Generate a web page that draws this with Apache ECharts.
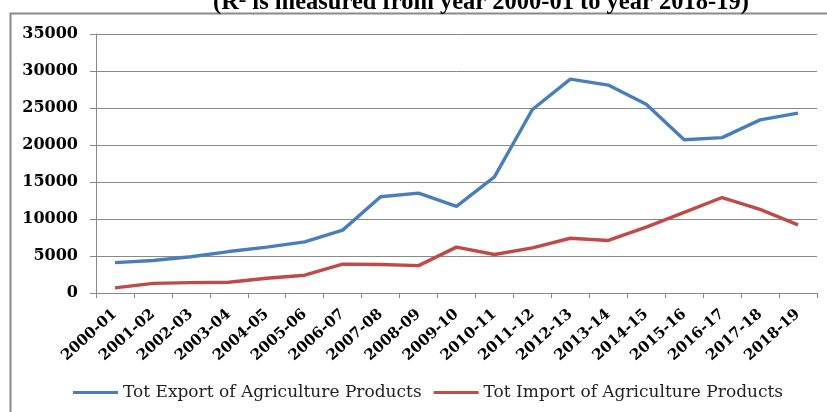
<!DOCTYPE html>
<html>
<head>
<meta charset="utf-8">
<script src="https://cdn.jsdelivr.net/npm/echarts@6/dist/echarts.min.js"></script>
<style>
  html, body { margin: 0; padding: 0; background: #fff; }
  #chart { width: 827px; height: 412px; }
</style>
</head>
<body>
<div id="chart"></div>
<script>
// Agricultural trade, 2000-01 to 2018-19
const years = ['2000-01', '2001-02', '2002-03', '2003-04', '2004-05', '2005-06', '2006-07',
  '2007-08', '2008-09', '2009-10', '2010-11', '2011-12', '2012-13', '2013-14', '2014-15',
  '2015-16', '2016-17', '2017-18', '2018-19'];
const exportValues = [4100, 4400, 4900, 5600, 6200, 6900, 8500, 13000, 13500, 11700, 15700,
  24800, 28900, 28100, 25500, 20700, 21000, 23400, 24300];
const importValues = [700, 1300, 1400, 1450, 2000, 2400, 3900, 3850, 3700, 6200, 5200,
  6100, 7400, 7100, 8900, 10900, 12900, 11300, 9200];
const seriesNames = ['Tot Export of Agriculture Products', 'Tot Import of Agriculture Products'];
const titleText = '(R\u00B2 is measured from year 2000-01 to year 2018-19)';
const yMax = 35000;
const yStep = 5000;

const chart = echarts.init(document.getElementById('chart'));
const grey = '#888888';

chart.setOption({
  animation: false,
  backgroundColor: '#ffffff',
  title: {
    text: titleText,
    left: 208,
    top: -15,
    textStyle: { fontFamily: 'Liberation Serif', fontWeight: 'bold', fontSize: 24.5, color: '#000' }
  },
  graphic: [{
    type: 'rect',
    shape: { x: 10.5, y: 13.5, width: 900, height: 500 },
    style: { fill: 'none', stroke: '#8a8a8a', lineWidth: 2 },
    silent: true
  }],
  grid: { left: 96, right: 10, top: 34, bottom: 119 },
  legend: {
    bottom: 6,
    left: 68,
    icon: 'rect',
    itemWidth: 45,
    itemHeight: 3,
    itemGap: 12,
    textStyle: { fontFamily: 'DejaVu Serif', fontSize: 17, color: '#222' },
    data: seriesNames
  },
  xAxis: {
    type: 'category',
    data: years,
    boundaryGap: true,
    axisLine: { lineStyle: { color: grey, width: 1 } },
    axisTick: { show: true, length: 5, lineStyle: { color: grey } },
    axisLabel: {
      rotate: 42,
      margin: 19,
      interval: 0,
      fontFamily: 'DejaVu Serif',
      fontWeight: 'bold',
      fontSize: 15,
      color: '#000'
    }
  },
  yAxis: {
    type: 'value',
    min: 0,
    max: yMax,
    interval: yStep,
    axisLine: { show: true, lineStyle: { color: grey, width: 1 } },
    axisTick: { show: true, length: 6, lineStyle: { color: grey } },
    splitLine: { lineStyle: { color: grey, width: 1 } },
    axisLabel: {
      margin: 18,
      formatter: (v) => String(v),
      fontFamily: 'DejaVu Serif',
      fontWeight: 'bold',
      fontSize: 16,
      color: '#000'
    }
  },
  series: [
    {
      name: seriesNames[0],
      type: 'line',
      data: exportValues,
      symbol: 'none',
      lineStyle: { color: '#4A7EBB', width: 3.4 },
      itemStyle: { color: '#4A7EBB' }
    },
    {
      name: seriesNames[1],
      type: 'line',
      data: importValues,
      symbol: 'none',
      lineStyle: { color: '#BE4B48', width: 3.4 },
      itemStyle: { color: '#BE4B48' }
    }
  ]
});
</script>
</body>
</html>
